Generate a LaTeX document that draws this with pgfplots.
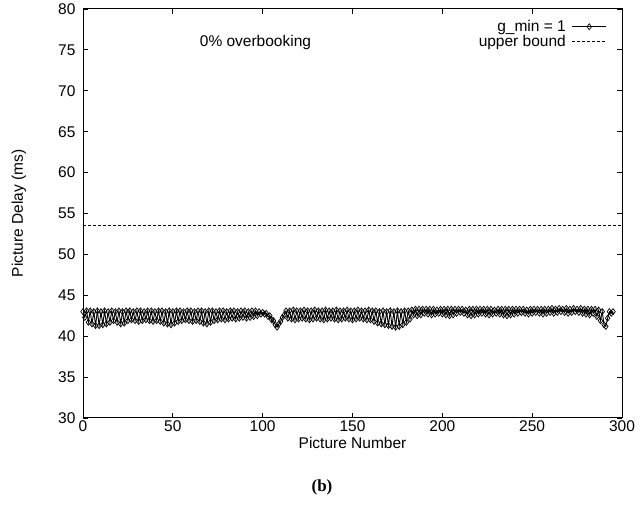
\documentclass[border=0pt]{standalone}
\usepackage{fontspec}
\setmainfont{Liberation Sans}
\newfontfamily\seriffont{Liberation Serif}
\usepackage{pgfplots}
\pgfplotsset{compat=1.18}

\begin{document}
\begin{tikzpicture}[x=1pt,y=1pt]
\useasboundingbox (0,0) rectangle (644,505);
\begin{axis}[
  at={(83pt,87pt)}, anchor=south west,
  scale only axis, width=539pt, height=409pt,
  xmin=0, xmax=300, ymin=30, ymax=80,
  xtick={0,50,...,300}, ytick={30,35,...,80},
  tick align=inside, major tick length=5pt,
  tick style={line width=0.8pt, black},
  axis line style={line width=1pt},
  font=\fontsize{15.5}{17}\selectfont,
  /pgf/number format/assume math mode=true,
  yticklabel style={xshift=-4pt},
  xticklabel style={yshift=1pt},
  xlabel={Picture Number}, ylabel={Picture Delay (ms)},
  every axis x label/.style={at={(axis description cs:0.5,-0.06)}, anchor=center},
  every axis y label/.style={at={(axis description cs:-0.119,0.5)}, anchor=center, rotate=90},
  legend style={draw=none, fill=none, at={(axis description cs:0.972,0.975)},
    anchor=north east, font=\fontsize{15.5}{17}\selectfont, inner sep=0pt,
    nodes={inner sep=1pt}, row sep=0pt, column sep=5pt},
  legend cell align=right, legend plot pos=right,
  legend image code/.code={\draw[mark repeat=2,mark phase=2,#1] plot coordinates {(0pt,0pt) (17pt,0pt) (34pt,0pt)};},
]
\addplot[black, line width=0.9pt, mark=diamond, mark size=3pt, mark options={solid, line width=0.7pt}] coordinates {
(0,43.0)(1,42.3)(2,43.1)(3,41.7)(4,43.1)(5,41.5)(6,43.0)(7,41.3)(8,43.1)(9,41.3)(10,43.0)(11,41.4)(12,43.1)(13,41.5)(14,43.0)(15,41.7)(16,43.1)(17,41.9)(18,43.0)(19,41.7)(20,43.1)(21,41.5)
(22,43.0)(23,41.6)(24,43.1)(25,41.9)(26,43.1)(27,42.0)(28,43.0)(29,41.9)(30,43.1)(31,41.8)(32,43.1)(33,41.9)(34,43.0)(35,42.0)(36,43.1)(37,41.9)(38,43.1)(39,41.8)(40,43.0)(41,41.9)(42,43.1)(43,41.8)(44,43.1)(45,41.6)(46,43.0)(47,41.5)(48,43.1)(49,41.4)
(50,43.0)(51,41.6)(52,43.1)(53,41.8)(54,43.1)(55,41.9)(56,43.0)(57,42.0)(58,43.1)(59,41.9)(60,43.1)(61,41.8)(62,43.0)(63,41.9)(64,43.1)(65,41.8)(66,43.1)(67,41.6)(68,43.0)(69,41.5)(70,43.1)(71,41.7)(72,43.1)(73,41.9)(74,43.0)(75,42.0)(76,43.1)(77,42.1)(78,43.1)(79,42.0)
(80,43.0)(81,42.1)(82,43.1)(83,42.2)(84,43.1)(85,42.1)(86,43.0)(87,42.2)(88,43.1)(89,42.3)(90,43.1)(91,42.2)(92,43.0)(93,42.3)(94,43.1)(95,42.4)(96,43.1)(97,42.5)(98,43.0)(99,42.7)
(100,42.9)(101,42.7)(102,42.8)(103,42.4)(104,42.5)(105,42.0)(106,41.9)(107,41.4)(108,41.1)(109,41.5)(110,41.8)(111,42.3)(112,42.6)(113,43.1)
(114,42.2)(115,43.1)(116,42.1)(117,43.2)(118,42.0)(119,43.1)(120,42.1)(121,43.1)(122,42.2)(123,43.2)(124,42.1)(125,43.1)(126,42.0)(127,43.1)(128,42.1)(129,43.2)(130,42.2)(131,43.1)(132,42.1)(133,43.1)(134,42.0)(135,43.2)(136,42.1)(137,43.1)(138,42.2)(139,43.1)(140,42.1)(141,43.2)(142,42.0)(143,43.1)(144,42.1)(145,43.1)(146,42.2)(147,43.2)(148,42.1)(149,43.1)(150,42.0)(151,43.1)(152,42.1)(153,43.2)(154,42.2)(155,43.1)(156,42.1)(157,43.1)(158,42.0)(159,43.2)
(160,42.0)(161,43.1)(162,41.8)(163,43.1)(164,41.6)(165,43.0)(166,41.5)(167,43.1)(168,41.4)(169,43.0)(170,41.3)(171,43.1)(172,41.2)(173,43.0)(174,41.1)(175,43.1)(176,41.2)(177,43.0)(178,41.4)(179,43.1)(180,41.7)(181,43.1)(182,42.1)(183,43.2)
(184,42.6)(185,43.3)(186,42.5)(187,43.3)(188,42.6)(189,43.3)(190,42.8)(191,43.3)(192,42.7)(193,43.3)(194,42.6)(195,43.3)(196,42.7)(197,43.2)(198,42.8)(199,43.3)(200,42.7)(201,43.3)(202,42.6)(203,43.3)(204,42.5)(205,43.3)(206,42.6)(207,43.3)(208,42.8)(209,43.3)(210,42.9)(211,43.3)(212,42.8)(213,43.2)(214,42.6)(215,43.3)(216,42.5)(217,43.3)(218,42.6)(219,43.3)(220,42.7)
(221,43.3)(222,42.8)(223,43.3)(224,42.7)(225,43.3)(226,42.6)(227,43.3)(228,42.7)(229,43.2)(230,42.8)(231,43.3)(232,42.7)(233,43.3)(234,42.6)(235,43.3)(236,42.5)(237,43.3)(238,42.6)(239,43.3)(240,42.7)(241,43.3)(242,42.8)(243,43.3)(244,42.9)(245,43.3)(246,42.8)(247,43.2)(248,42.7)(249,43.3)(250,42.8)
(251,43.3)(252,42.9)(253,43.3)(254,42.8)(255,43.3)(256,42.7)(257,43.3)(258,42.8)(259,43.3)(260,42.9)(261,43.4)(262,42.8)(263,43.3)(264,42.9)(265,43.4)(266,43.0)(267,43.3)(268,42.9)(269,43.4)(270,42.8)(271,43.3)(272,42.9)(273,43.4)(274,43.0)(275,43.3)(276,42.9)(277,43.4)(278,42.8)(279,43.3)(280,42.7)
(281,43.3)(282,42.6)(283,43.3)(284,42.8)(285,43.3)(286,42.4)(287,43.2)(288,41.9)(289,43.0)(290,41.4)(291,41.2)(292,42.2)(293,43.0)(294,42.8)(295,43.0)
};
\addlegendentry{g\_min = 1}
\addplot[black, line width=0.6pt, dash pattern=on 3pt off 2pt] coordinates {(0,53.5) (300,53.5)};
\addlegendentry{upper bound}
\node[font=\fontsize{15.5}{17}\selectfont] at (axis cs:96,75.85) {0\% overbooking};
\end{axis}
\node[font=\seriffont\bfseries\fontsize{17}{19}\selectfont] at (322,18) {(b)};
\end{tikzpicture}
\end{document}
